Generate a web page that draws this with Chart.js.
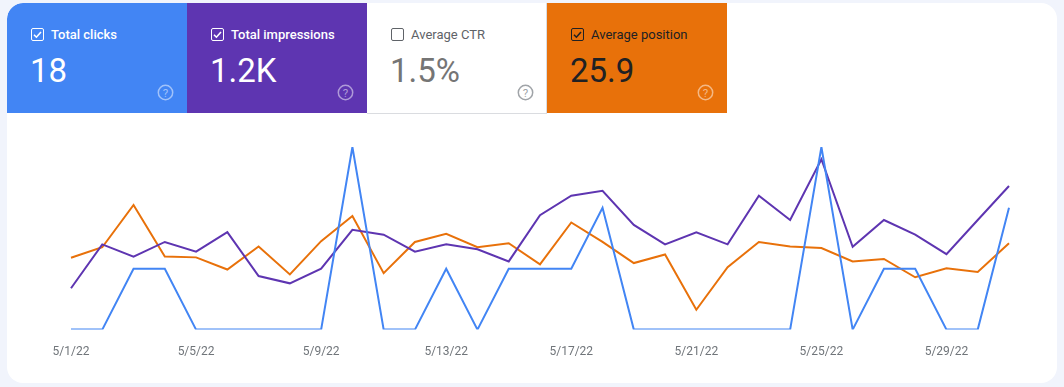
<!DOCTYPE html>
<html>
<head>
<meta charset="utf-8">
<script src="https://cdn.jsdelivr.net/npm/chart.js@4"></script>
<style>
  html, body { margin: 0; padding: 0; }
  body { width: 1064px; height: 387px; background: #f1f4fc; font-family: Roboto, "Noto Sans", Arial, sans-serif; position: relative; overflow: hidden; }
  .card { position: absolute; left: 7px; top: 3px; width: 1050px; height: 380px; background: #fff; border-radius: 16px; overflow: hidden; }
  .tile { position: absolute; top: 0; width: 180px; height: 110px; box-sizing: border-box; }
  .tile .box { position: absolute; left: 24px; top: 25px; width: 13px; height: 13px; box-sizing: border-box; border: 1.5px solid currentColor; border-radius: 2px; }
  .tile .box svg { position: absolute; left: -1px; top: -1px; }
  .tile .label { position: absolute; left: 44px; top: 23px; font-size: 13px; font-weight: 500; line-height: 18px; white-space: nowrap; }
  .tile .value { position: absolute; left: 23px; top: 48px; font-size: 33px; font-weight: 400; line-height: 40px; }
  .tile .help { position: absolute; left: 150px; top: 81px; width: 17px; height: 17px; }
  #clicks { left: 0; background: #4285f4; color: #fff; border-top-left-radius: 16px; }
  #impr { left: 180px; background: #5e35b1; color: #fff; }
  #ctr { left: 360px; background: #fff; color: #5f6368; border-bottom: 1px solid #dadce0; border-right: 1px solid #dadce0; height: 111px; }
  #ctr .label { font-weight: 400; }
  #ctr .value { color: #757575; }
  #pos { left: 540px; background: #e8710a; color: #202124; }
  #chartWrap { position: absolute; left: 0; top: 110px; width: 1050px; height: 270px; }
</style>
</head>
<body>
<div class="card">
  <div class="tile" id="clicks">
    <div class="box"><svg width="13" height="13" viewBox="0 0 13 13"><path d="M3 6.8 L5.4 9.2 L10 4" fill="none" stroke="#fff" stroke-width="1.6"/></svg></div>
    <div class="label">Total clicks</div>
    <div class="value">18</div>
    <svg class="help" viewBox="0 0 17 17"><circle cx="8.5" cy="8.5" r="7.2" fill="none" stroke="rgba(255,255,255,0.5)" stroke-width="1.5"/><text x="8.5" y="12.6" text-anchor="middle" font-size="11.5" font-family="Roboto" fill="rgba(255,255,255,0.5)">?</text></svg>
  </div>
  <div class="tile" id="impr">
    <div class="box"><svg width="13" height="13" viewBox="0 0 13 13"><path d="M3 6.8 L5.4 9.2 L10 4" fill="none" stroke="#fff" stroke-width="1.6"/></svg></div>
    <div class="label">Total impressions</div>
    <div class="value">1.2K</div>
    <svg class="help" viewBox="0 0 17 17"><circle cx="8.5" cy="8.5" r="7.2" fill="none" stroke="rgba(255,255,255,0.5)" stroke-width="1.5"/><text x="8.5" y="12.6" text-anchor="middle" font-size="11.5" font-family="Roboto" fill="rgba(255,255,255,0.5)">?</text></svg>
  </div>
  <div class="tile" id="ctr">
    <div class="box"></div>
    <div class="label">Average CTR</div>
    <div class="value">1.5%</div>
    <svg class="help" viewBox="0 0 17 17"><circle cx="8.5" cy="8.5" r="7.2" fill="none" stroke="#a0a4a8" stroke-width="1.5"/><text x="8.5" y="12.6" text-anchor="middle" font-size="11.5" font-family="Roboto" fill="#a0a4a8">?</text></svg>
  </div>
  <div class="tile" id="pos">
    <div class="box"><svg width="13" height="13" viewBox="0 0 13 13"><path d="M3 6.8 L5.4 9.2 L10 4" fill="none" stroke="#202124" stroke-width="1.6"/></svg></div>
    <div class="label" style="font-weight:400">Average position</div>
    <div class="value">25.9</div>
    <svg class="help" viewBox="0 0 17 17"><circle cx="8.5" cy="8.5" r="7.2" fill="none" stroke="rgba(255,255,255,0.5)" stroke-width="1.5"/><text x="8.5" y="12.6" text-anchor="middle" font-size="11.5" font-family="Roboto" fill="rgba(255,255,255,0.5)">?</text></svg>
  </div>
  <div id="chartWrap"><canvas id="chart"></canvas></div>
</div>
<script>
const dates = [
  "5/1/22", "5/2/22", "5/3/22", "5/4/22", "5/5/22", "5/6/22", "5/7/22", "5/8/22",
  "5/9/22", "5/10/22", "5/11/22", "5/12/22", "5/13/22", "5/14/22", "5/15/22", "5/16/22",
  "5/17/22", "5/18/22", "5/19/22", "5/20/22", "5/21/22", "5/22/22", "5/23/22", "5/24/22",
  "5/25/22", "5/26/22", "5/27/22", "5/28/22", "5/29/22", "5/30/22", "5/31/22"
];
const clicks = [0, 0, 1, 1, 0, 0, 0, 0, 0, 3, 0, 0, 1, 0, 1, 1, 1, 2, 0, 0, 0, 0, 0, 0, 3, 0, 1, 1, 0, 0, 2];
const impressions = [17, 35, 30, 36, 32, 40, 22, 19, 25, 41, 39, 32, 35, 33, 28, 47, 55, 57, 43, 35, 40, 35, 55, 45, 70, 34, 45, 39, 31, 45, 59];
const position = [27.3, 24.7, 14.3, 27.0, 27.2, 30.2, 24.5, 31.4, 23.2, 17.0, 31.1, 23.4, 21.4, 24.7, 23.7, 28.9,
  18.6, 23.4, 28.6, 26.5, 40.1, 29.6, 23.4, 24.5, 24.9, 28.2, 27.6, 32.1, 29.9, 30.8, 23.7];

const lineStyle = { borderWidth: 2, pointRadius: 0, pointHoverRadius: 0, tension: 0, fill: false };

new Chart(document.getElementById("chart").getContext("2d"), {
  type: "line",
  data: {
    labels: dates,
    datasets: [
      { label: "Clicks", data: clicks, borderColor: "#4285f4", yAxisID: "yClicks", ...lineStyle },
      { label: "Impressions", data: impressions, borderColor: "#5e35b1", yAxisID: "yImpr", ...lineStyle },
      { label: "Position", data: position, borderColor: "#e8710a", yAxisID: "yPos", ...lineStyle }
    ]
  },
  options: {
    responsive: true,
    maintainAspectRatio: false,
    animation: false,
    layout: { padding: { left: 64, right: 48, top: 34, bottom: 9 } },
    plugins: { legend: { display: false }, tooltip: { enabled: false } },
    scales: {
      x: {
        offset: false,
        grid: { display: false, drawTicks: false },
        border: { display: false },
        ticks: {
          autoSkip: false,
          maxRotation: 0,
          padding: 15,
          color: "#70757a",
          font: { family: "Roboto", size: 12 },
          callback: (val, i) => (i % 4 === 0 ? dates[i] : "")
        }
      },
      yClicks: { display: false, min: 0, max: 3 },
      yImpr: { display: false, min: 0, max: 75 },
      yPos: { display: false, min: 0, max: 45, reverse: true }
    }
  }
});
</script>
</body>
</html>
